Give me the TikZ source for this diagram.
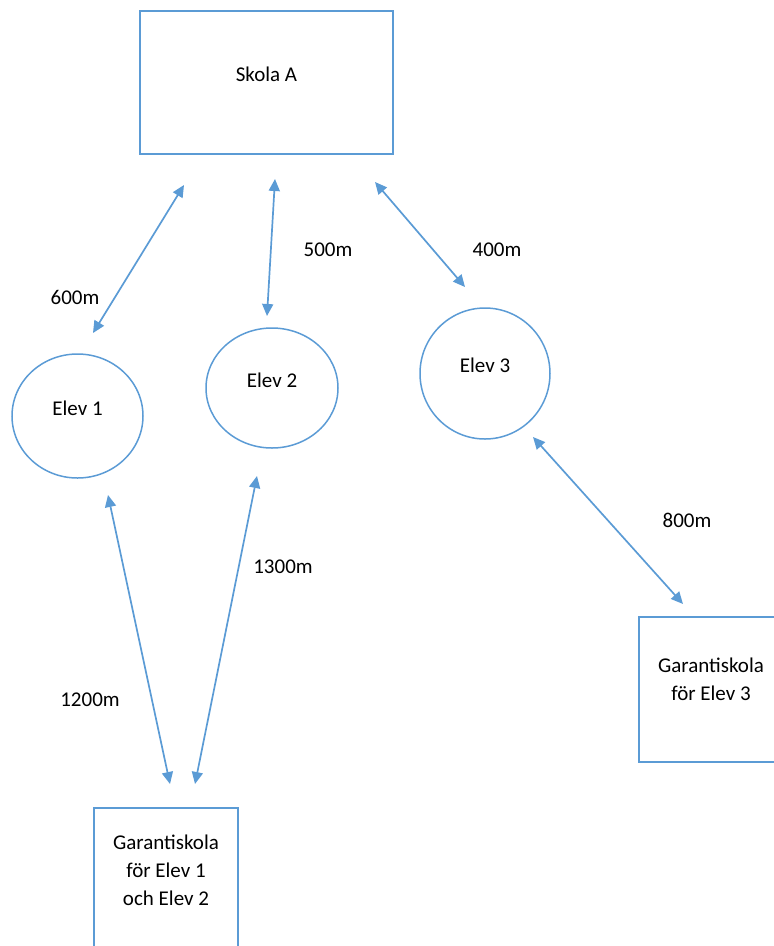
\documentclass[tikz,border=0pt]{standalone}
\usepackage{fontspec}
\setmainfont{Carlito}
\usetikzlibrary{arrows.meta,shapes.geometric}
\definecolor{officeblue}{HTML}{5B9BD5}
\tikzset{
    school box/.style={
        draw=officeblue,line width=1.5pt,
        rectangle,align=center,inner sep=0pt,
        text depth=#1
    },
    pupil/.style={
        draw=officeblue,line width=1.5pt,
        ellipse,inner sep=0pt,text depth=16pt
    },
    >={Triangle[length=12pt,width=11pt]},
    way/.style={officeblue,line width=1.7pt,<->},
}

\begin{document}
\begin{tikzpicture}[x=1pt,y=-1pt,font=\fontsize{21}{28}\selectfont]
                \clip (0,0) rectangle (774,946);
                \node[school box=16pt,minimum width=253pt,minimum height=143pt] (skola) at (266.5,82.5) {Skola A};
                \node[pupil,minimum width=131pt,minimum height=124pt] (elev1) at (77.5,416) {Elev 1};
                \node[pupil,minimum width=132pt,minimum height=120pt] (elev2) at (272,388) {Elev 2};
                \node[pupil,minimum width=130pt,minimum height=131pt] (elev3) at (485,373.5) {Elev 3};
                \node[school box=20pt,minimum width=144pt,minimum height=145pt] (garanti12) at (166,880.5) {Garantiskola\\för Elev 1\\och Elev 2};
                \node[school box=20pt,minimum width=144pt,minimum height=145pt] (garanti3) at (711,689.5) {Garantiskola\\för Elev 3};
                % arrow ends
                \foreach \name/\x/\y in {s1/184/185,e1/93/333,s2/275/179,e2/267/316,s3/375/182,e3/465/287,
                    e3g/533/437,g3/683/604,e1g/108/495,g1/170/784,e2g/257/476,g2/195/784}
                \coordinate (\name) at (\x,\y);
                \foreach \a/\b in {s1/e1,s2/e2,s3/e3,e3g/g3,e1g/g1,e2g/g2}
                \draw[way] (\a) -- (\b);
                % distances
                \foreach \name/\x/\y/\txt in {d600/75/297/600m,d500/328/250/500m,d400/497/250/400m,
                    d800/687/520/800m,d1300/283/567/1300m,d1200/90/700/1200m}
                \node (\name) at (\x,\y) {\txt};
            \end{tikzpicture}
\end{document}
